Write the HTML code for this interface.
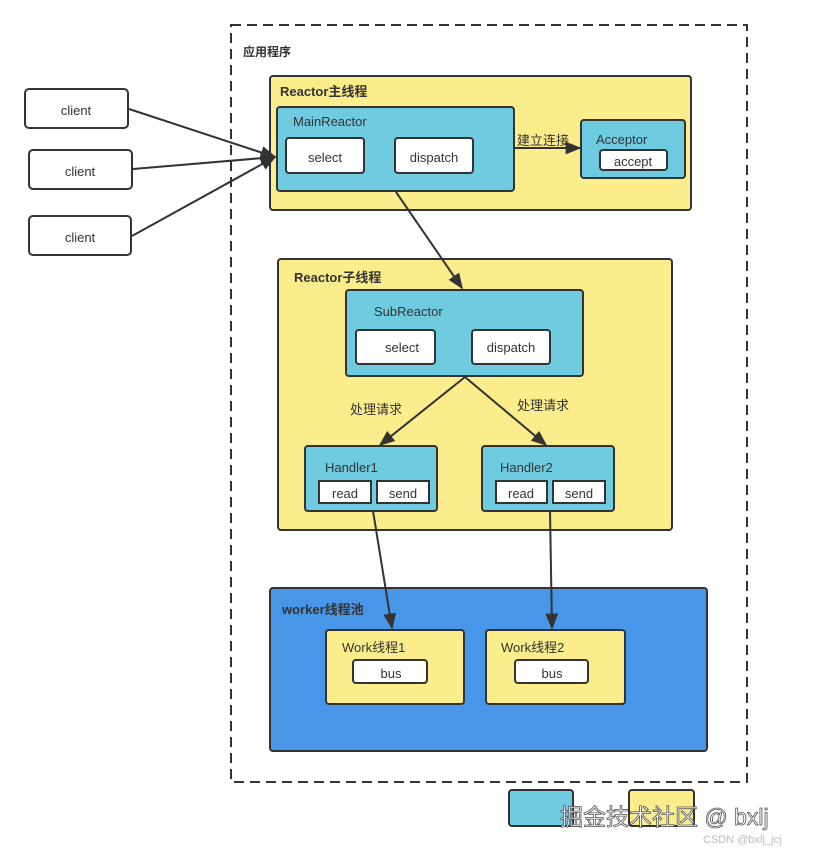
<!DOCTYPE html>
<html><head><meta charset="utf-8"><style>
html,body{margin:0;padding:0;background:#fff;width:813px;height:853px;overflow:hidden}
text{font-family:"Liberation Sans","Noto Sans CJK SC",sans-serif;font-size:13px;fill:#333}
.b{font-weight:bold}
</style></head><body>
<svg width="813" height="853" viewBox="0 0 813 853" xmlns="http://www.w3.org/2000/svg">
<defs>
<marker id="m" viewBox="0 0 10 10" markerWidth="16" markerHeight="16" refX="9" refY="5" orient="auto" markerUnits="userSpaceOnUse"><path d="M0,1 L10,5 L0,9 z" fill="#333"/></marker></defs>
<g stroke="#333" stroke-width="2">
<rect x="231" y="25" width="516" height="757" fill="none" stroke-dasharray="10,6"/>
<rect x="25" y="89" width="103" height="39" rx="4" fill="#fff"/>
<rect x="29" y="150" width="103" height="39" rx="4" fill="#fff"/>
<rect x="29" y="216" width="102" height="39" rx="4" fill="#fff"/>
<rect x="270" y="76" width="421" height="134" rx="3" fill="#fbec8c"/>
<rect x="277" y="107" width="237" height="84" rx="3" fill="#6fcbdf"/>
<rect x="286" y="138" width="78" height="35" rx="3" fill="#fff"/>
<rect x="395" y="138" width="78" height="35" rx="3" fill="#fff"/>
<rect x="581" y="120" width="104" height="58" rx="3" fill="#6fcbdf"/>
<rect x="600" y="150" width="67" height="20" rx="3" fill="#fff"/>
<rect x="278" y="259" width="394" height="271" rx="3" fill="#fbec8c"/>
<rect x="346" y="290" width="237" height="86" rx="3" fill="#6fcbdf"/>
<rect x="356" y="330" width="79" height="34" rx="3" fill="#fff"/>
<rect x="472" y="330" width="78" height="34" rx="3" fill="#fff"/>
<rect x="305" y="446" width="132" height="65" rx="3" fill="#6fcbdf"/>
<rect x="319" y="481" width="52" height="22" fill="#fff"/>
<rect x="377" y="481" width="52" height="22" fill="#fff"/>
<rect x="482" y="446" width="132" height="65" rx="3" fill="#6fcbdf"/>
<rect x="496" y="481" width="51" height="22" fill="#fff"/>
<rect x="553" y="481" width="52" height="22" fill="#fff"/>
<rect x="270" y="588" width="437" height="163" rx="3" fill="#4896e8"/>
<rect x="326" y="630" width="138" height="74" rx="3" fill="#fbec8c"/>
<rect x="353" y="660" width="74" height="23" rx="3" fill="#fff"/>
<rect x="486" y="630" width="139" height="74" rx="3" fill="#fbec8c"/>
<rect x="515" y="660" width="73" height="23" rx="3" fill="#fff"/>
<rect x="509" y="790" width="64" height="36" rx="3" fill="#6fcbdf"/>
<rect x="629" y="790" width="65" height="36" rx="3" fill="#fbec8c"/>
<line x1="129" y1="109" x2="275" y2="157" marker-end="url(#m)"/>
<line x1="133" y1="169" x2="275" y2="157" marker-end="url(#m)"/>
<line x1="132" y1="236" x2="275" y2="157" marker-end="url(#m)"/>
<line x1="514" y1="148" x2="580" y2="148" marker-end="url(#m)"/>
<line x1="396" y1="192" x2="462" y2="288" marker-end="url(#m)"/>
<line x1="465" y1="377" x2="380" y2="445" marker-end="url(#m)"/>
<line x1="465" y1="377" x2="546" y2="445" marker-end="url(#m)"/>
<line x1="373" y1="511" x2="392" y2="628" marker-end="url(#m)"/>
<line x1="550" y1="511" x2="552" y2="628" marker-end="url(#m)"/>
</g>
<text x="243" y="56" class="b" style="font-size:12px">应用程序</text>
<text x="76" y="115" text-anchor="middle">client</text>
<text x="80" y="176" text-anchor="middle">client</text>
<text x="80" y="242" text-anchor="middle">client</text>
<text x="280" y="96" class="b">Reactor主线程</text>
<text x="293" y="126">MainReactor</text>
<text x="325" y="162" text-anchor="middle">select</text>
<text x="434" y="162" text-anchor="middle">dispatch</text>
<text x="517" y="145">建立连接</text>
<text x="596" y="144">Acceptor</text>
<text x="633" y="166" text-anchor="middle">accept</text>
<text x="294" y="282" class="b">Reactor子线程</text>
<text x="374" y="316">SubReactor</text>
<text x="402" y="352" text-anchor="middle">select</text>
<text x="511" y="352" text-anchor="middle">dispatch</text>
<text x="350" y="414">处理请求</text>
<text x="517" y="410">处理请求</text>
<text x="325" y="472">Handler1</text>
<text x="345" y="498" text-anchor="middle">read</text>
<text x="403" y="498" text-anchor="middle">send</text>
<text x="500" y="472">Handler2</text>
<text x="521" y="498" text-anchor="middle">read</text>
<text x="579" y="498" text-anchor="middle">send</text>
<text x="282" y="614" class="b">worker线程池</text>
<text x="342" y="652">Work线程1</text>
<text x="391" y="678" text-anchor="middle">bus</text>
<text x="501" y="652">Work线程2</text>
<text x="552" y="678" text-anchor="middle">bus</text>
<text x="560" y="825" style="font-size:23px;fill:#fff;stroke:#555;stroke-width:0.8">掘金技术社区 @ bxlj</text>
<text x="703" y="843" style="font-size:11px;fill:#bbb">CSDN @bxlj_jcj</text>
</svg>
</body></html>
